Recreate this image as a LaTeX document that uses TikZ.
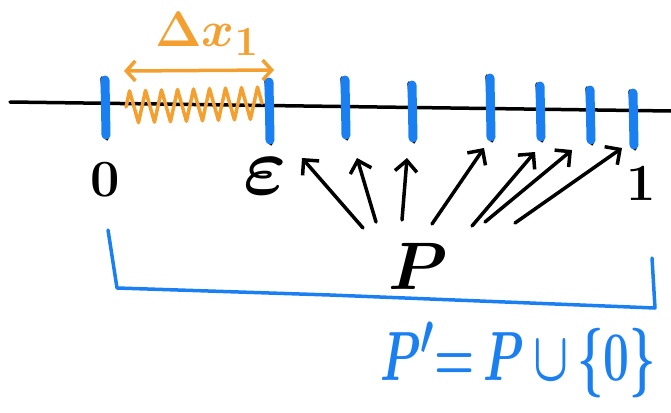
\documentclass[tikz,border=0pt]{standalone}
\usepackage{amsmath,amssymb}
\usetikzlibrary{arrows.meta,decorations.pathmorphing}
\definecolor{inkblue}{HTML}{1A7FF0}
\definecolor{inkorange}{HTML}{F4A030}
\tikzset{
  ink/.style={line width=3.5pt,line cap=round,line join=round},
  tickmark/.style={inkblue,line width=9pt,line cap=round},
  pointer/.style={ink,-{Straight Barb[length=11pt,width=22pt,line width=3.5pt]}},
  hand/.style={font=\Huge\boldmath,scale=#1,inner sep=0pt},
}
\begin{document}
\begin{tikzpicture}[x=1pt,y=-1pt]
  \useasboundingbox (0,0) rectangle (671,412);
  % number line
  \coordinate (L) at (10,102);
  \coordinate (R) at (671,111);
  \draw[ink] (L) -- (R);
  % partition points
  \foreach \name/\x/\top/\bot in {t0/105/80/135,t1/269/82/140,t2/345/80/135,t3/412/85/138,t4/490/78/137,t5/540/86/137,t6/590/90/140,t7/633/93/145} {
    \draw[ink] (\x-3,\top-2) -- (\x+2,\bot+4);
    \draw[tickmark] (\x,\top) -- (\x+1,\bot) coordinate (\name);
  }
  % labels
  \node[hand=2.1] (zero) at (105,180) {$0$};
  \node[hand=3.3] (eps) at (265,176) {$\varepsilon$};
  \node[hand=2.1] (one) at (641,184) {$1$};
  \node[hand=2.7] (P) at (418,266) {$P$};
  % first subinterval
  \node[hand=2,inkorange] (dx) at (207,34) {$\Delta x_1$};
  \coordinate (dxl) at (124,71);
  \coordinate (dxr) at (274,70);
  \draw[ink,inkorange,{Straight Barb[length=9pt,width=20pt]}-{Straight Barb[length=9pt,width=20pt]}] (dxl) -- (dxr);
  \draw[ink,inkorange,decorate,decoration={zigzag,segment length=16pt,amplitude=16pt}] (126,107) -- (262,103);
  % arrows from P
  \foreach \sx/\sy/\ex/\ey [count=\i] in {363/228/302/158,376/222/357/158,402/220/407/158,432/224/484/148,472/226/535/152,485/222/572/150,515/223/622/148} {
    \coordinate (s\i) at (\sx,\sy);
    \coordinate (e\i) at (\ex,\ey);
    \draw[pointer] (s\i) -- (e\i);
  }
  % P' bracket
  \draw[ink,inkblue] (108,230) -- (117,288) -- (330,295) -- (655,308) -- (652,258);
  \node[hand=2.8,xscale=0.66,inkblue] (Pprime) at (518,360) {$P'{=}\,P\,{\cup}\,\{0\}$};
\end{tikzpicture}
\end{document}
